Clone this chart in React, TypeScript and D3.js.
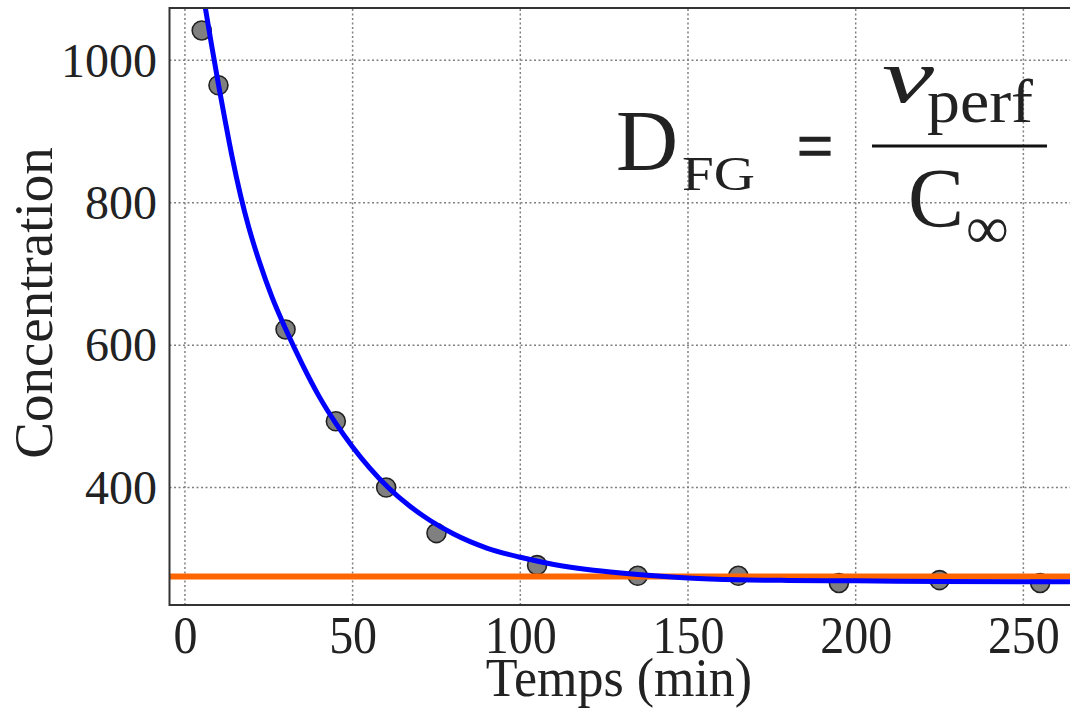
import React, { useRef, useEffect } from 'react'
import * as d3 from 'd3'

// mesures (points gris)
const times = [5, 10, 30, 45, 60, 75, 105, 135, 165, 195, 225, 255]
const concentrations = [1042, 965, 622, 493, 400, 336, 291, 276, 276, 266, 270, 266]

// courbe ajustée (bleue)
const fitTimes = [4, 6, 8, 10, 12, 14, 16.6, 19, 22.2, 26, 30, 35, 40, 45, 50, 55, 60.6, 67, 73, 80, 90, 100, 110, 120, 130, 140, 150, 165, 180, 200, 225, 250, 266]
const fitValues = [1134, 1076, 1020, 966, 915, 866, 810, 766, 717, 667, 623, 573, 528, 490, 457, 428, 400, 374, 354, 335, 315, 302, 292, 285, 280, 276, 273, 270.5, 269.5, 269, 268, 267.5, 267.5]

// plateau C∞ (orange)
const plateau = 275

const xTicks = [0, 50, 100, 150, 200, 250]
const yTicks = [400, 600, 800, 1000]

const App = () => {
	const svgRef = useRef<SVGSVGElement>(null)

	useEffect(() => {
		const svg = d3.select(svgRef.current)
		svg.selectAll('*').remove()

		const width = 1070
		const height = 717
		const font = '"Liberation Serif", "DejaVu Serif", serif'

		const x = d3.scaleLinear().domain([-4.6, 264.5]).range([169.5, 1072])
		const y = d3.scaleLinear().domain([235, 1073.5]).range([605, 8])
		const [x0, x1] = x.range()
		const [y0, y1] = y.range()

		svg.attr('width', width).attr('height', height)

		svg
			.append('defs')
			.append('clipPath')
			.attr('id', 'plot-clip')
			.append('rect')
			.attr('x', x0)
			.attr('y', y1)
			.attr('width', x1 - x0)
			.attr('height', y0 - y1)

		// grille pointillée
		const grid = svg.append('g').attr('stroke', '#808080').attr('stroke-width', 1.5).attr('stroke-dasharray', '2,2.5')
		grid
			.selectAll('.gx')
			.data(xTicks)
			.enter()
			.append('line')
			.attr('x1', d => x(d))
			.attr('x2', d => x(d))
			.attr('y1', y0)
			.attr('y2', y1)
		grid
			.selectAll('.gy')
			.data(yTicks)
			.enter()
			.append('line')
			.attr('x1', x0)
			.attr('x2', x1)
			.attr('y1', d => y(d))
			.attr('y2', d => y(d))

		const plot = svg.append('g').attr('clip-path', 'url(#plot-clip)')

		// points de mesure
		plot
			.selectAll('.dot')
			.data(times)
			.enter()
			.append('circle')
			.attr('cx', d => x(d))
			.attr('cy', (d, i) => y(concentrations[i]))
			.attr('r', 9.5)
			.attr('fill', '#808080')
			.attr('stroke', '#222')
			.attr('stroke-width', 1.6)

		// plateau
		plot
			.append('line')
			.attr('x1', x0)
			.attr('x2', x1)
			.attr('y1', y(plateau))
			.attr('y2', y(plateau))
			.attr('stroke', '#ff6600')
			.attr('stroke-width', 6)

		// courbe ajustée
		const line = d3
			.line<number>()
			.x(d => x(d))
			.y((d, i) => y(fitValues[i]))
			.curve(d3.curveMonotoneX)
		plot
			.append('path')
			.datum(fitTimes)
			.attr('fill', 'none')
			.attr('stroke', '#0000ff')
			.attr('stroke-width', 5)
			.attr('d', line)

		// cadre
		svg
			.append('path')
			.attr('d', `M${x1},${y1}H${x0}V${y0}H${x1}`)
			.attr('fill', 'none')
			.attr('stroke', '#333')
			.attr('stroke-width', 2)

		// axe X
		const xAxis = d3.axisBottom(x).tickValues(xTicks).tickSize(0).tickPadding(0)
		const gx = svg.append('g').attr('transform', `translate(0, ${y0})`).call(xAxis)
		gx.select('.domain').remove()
		gx.selectAll('text')
			.attr('font-family', font)
			.attr('font-size', 48)
			.attr('fill', '#222')
			.attr('y', 0)
			.attr('dy', 0)
			.attr('transform', 'translate(0, 48) scale(1, 1.1)')

		// axe Y
		const yAxis = d3.axisLeft(y).tickValues(yTicks).tickSize(0).tickPadding(0).tickFormat(d3.format('d'))
		const gy = svg.append('g').attr('transform', `translate(157, 0)`).call(yAxis)
		gy.select('.domain').remove()
		gy.selectAll('text')
			.attr('font-family', font)
			.attr('font-size', 48)
			.attr('fill', '#222')
			.attr('x', 0)
			.attr('dy', '0.33em')

		svg
			.append('text')
			.attr('transform', 'translate(619, 696) scale(1, 1.05)')
			.attr('text-anchor', 'middle')
			.attr('font-family', font)
			.attr('font-size', 52)
			.attr('fill', '#222')
			.text('Temps (min)')

		svg
			.append('text')
			.attr('transform', 'translate(52, 303) rotate(-90)')
			.attr('text-anchor', 'middle')
			.attr('font-family', font)
			.attr('font-size', 55)
			.attr('fill', '#222')
			.text('Concentration')

		// formule
		const f = svg.append('g').attr('font-family', font).attr('fill', '#222')
		f.append('text').attr('x', 616).attr('y', 170).attr('font-size', 86).text('D')
		f.append('text')
			.attr('x', 682)
			.attr('y', 190)
			.attr('font-size', 48)
			.attr('textLength', 73)
			.attr('lengthAdjust', 'spacingAndGlyphs')
			.text('FG')
		f.append('text')
			.attr('x', 815)
			.attr('y', 170)
			.attr('text-anchor', 'middle')
			.attr('font-size', 70)
			.attr('textLength', 36)
			.attr('lengthAdjust', 'spacingAndGlyphs')
			.attr('stroke', '#222')
			.attr('stroke-width', 1.5)
			.text('=')
		f.append('text')
			.attr('x', 882)
			.attr('y', 102)
			.attr('font-size', 76)
			.attr('font-style', 'italic')
			.attr('textLength', 52)
			.attr('lengthAdjust', 'spacingAndGlyphs')
			.text('v')
		f.append('text')
			.attr('x', 927)
			.attr('y', 122)
			.attr('font-size', 62)
			.attr('textLength', 106)
			.attr('lengthAdjust', 'spacingAndGlyphs')
			.text('perf')
		f.append('line')
			.attr('x1', 872)
			.attr('x2', 1047)
			.attr('y1', 146)
			.attr('y2', 146)
			.attr('stroke', '#111')
			.attr('stroke-width', 3)
		f.append('text').attr('x', 908).attr('y', 227).attr('font-size', 84).text('C')
		f.append('text').attr('x', 966).attr('y', 248).attr('font-size', 60).text('∞')
	}, [])

	return (
		<div style={{ position: 'absolute', left: 0, top: 0 }}>
			<svg ref={svgRef} style={{ display: 'block' }}></svg>
		</div>
	)
}

export default App
